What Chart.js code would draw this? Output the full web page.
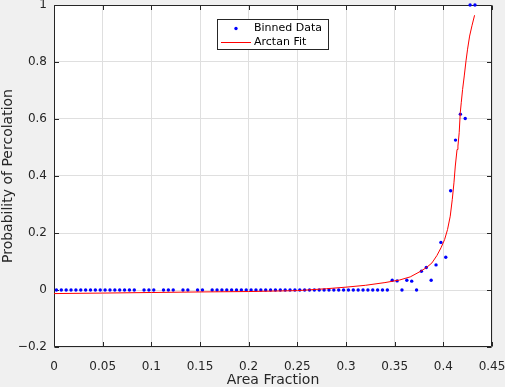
<!DOCTYPE html>
<html>
<head>
<meta charset="utf-8">
<script src="https://cdn.jsdelivr.net/npm/chart.js@4.4.0/dist/chart.umd.min.js"></script>
<style>
  html, body { margin: 0; padding: 0; background: #f0f0f0; }
  canvas { display: block; }
</style>
</head>
<body>
<canvas id="percChart" width="505" height="387"></canvas>
<script>
// --- DATA ---
// bin centres (area fraction) and the fraction of runs that percolated
const binX = [
  0.0025, 0.0075, 0.0125, 0.0175, 0.0225, 0.0275, 0.0325, 0.0375, 0.0425, 0.0475,
  0.0525, 0.0575, 0.0625, 0.0675, 0.0725, 0.0775, 0.0825,
  0.0925, 0.0975, 0.1025,
  0.1125, 0.1175, 0.1225,
  0.1325, 0.1375,
  0.1475, 0.1525,
  0.1625, 0.1675, 0.1725, 0.1775, 0.1825, 0.1875, 0.1925, 0.1975, 0.2025, 0.2075,
  0.2125, 0.2175, 0.2225, 0.2275, 0.2325, 0.2375, 0.2425, 0.2475, 0.2525, 0.2575,
  0.2625, 0.2675, 0.2725, 0.2775, 0.2825, 0.2875, 0.2925, 0.2975, 0.3025, 0.3075,
  0.3125, 0.3175, 0.3225, 0.3275, 0.3325, 0.3375, 0.3425,
  0.3475, 0.3525, 0.3575, 0.3625, 0.3675, 0.3725, 0.3775, 0.3825, 0.3875, 0.3925,
  0.3975, 0.4025, 0.4075, 0.4125, 0.4175, 0.4225, 0.4275, 0.4325
];
const binY = [
  0, 0, 0, 0, 0, 0, 0, 0, 0, 0,
  0, 0, 0, 0, 0, 0, 0,
  0, 0, 0,
  0, 0, 0,
  0, 0,
  0, 0,
  0, 0, 0, 0, 0, 0, 0, 0, 0, 0,
  0, 0, 0, 0, 0, 0, 0, 0, 0, 0,
  0, 0, 0, 0, 0, 0, 0, 0, 0, 0,
  0, 0, 0, 0, 0, 0, 0,
  0.034, 0.032, 0, 0.034, 0.031, 0, 0.066, 0.079, 0.034, 0.088,
  0.167, 0.115, 0.348, 0.526, 0.617, 0.602, 1, 1
];

// arctan fit curve
const fitX = [
  0, 0.05, 0.1, 0.15, 0.2, 0.25, 0.28, 0.3, 0.32, 0.34, 0.355, 0.366,
  0.3763, 0.3824, 0.3883, 0.3934, 0.3976, 0.4013, 0.4043, 0.4071, 0.4092, 0.4109,
  0.4123, 0.4141, 0.4150, 0.4163, 0.4174, 0.4184, 0.4198, 0.4215, 0.4233, 0.4249,
  0.4270, 0.4294, 0.4321
];
const fitY = [
  -0.0126, -0.0108, -0.0088, -0.0068, -0.0054, -0.0022, 0.0045, 0.010, 0.0165, 0.026, 0.035, 0.046,
  0.065, 0.078, 0.095, 0.121, 0.148, 0.177, 0.212, 0.259, 0.318, 0.376,
  0.435, 0.493, 0.505, 0.552, 0.622, 0.657, 0.704, 0.751, 0.804, 0.845,
  0.891, 0.927, 0.964
];

const xTicks = [0, 0.05, 0.1, 0.15, 0.2, 0.25, 0.3, 0.35, 0.4, 0.45];
const yTicks = [-0.2, 0, 0.2, 0.4, 0.6, 0.8, 1];

const AXIS_COLOR = '#262626';
const GRID_COLOR = '#dfdfdf';

Chart.defaults.font.family = '"DejaVu Sans", sans-serif';
Chart.defaults.color = AXIS_COLOR;

// tick text like MATLAB: "0", "0.05", "−0.2"
const tickText = v => {
  const s = String(Number(Math.abs(v).toFixed(2)));
  return v < 0 ? '\u2212' + s : s;
};

// --- MATLAB-ish frame: grey figure, white axes, box with inward ticks, legend ---
const matlabFrame = {
  id: 'matlabFrame',
  beforeDraw(chart) {
    const { ctx, chartArea: a } = chart;
    ctx.save();
    ctx.fillStyle = '#f0f0f0';
    ctx.fillRect(0, 0, chart.width, chart.height);
    ctx.fillStyle = '#ffffff';
    ctx.fillRect(a.left, a.top, a.right - a.left, a.bottom - a.top);
    ctx.restore();
  },
  beforeDatasetsDraw(chart) {
    const { ctx, chartArea: a, scales } = chart;
    const L = Math.round(a.left) + 0.5, R = Math.round(a.right) - 0.5;
    const T = Math.round(a.top) + 0.5, B = Math.round(a.bottom) - 0.5;
    const tl = 4.5;
    ctx.save();
    ctx.strokeStyle = AXIS_COLOR;
    ctx.lineWidth = 1;
    ctx.beginPath();
    ctx.rect(L, T, R - L, B - T);
    xTicks.forEach(v => {
      const x = Math.round(scales.x.getPixelForValue(v)) + 0.5;
      ctx.moveTo(x, B); ctx.lineTo(x, B - tl);
      ctx.moveTo(x, T); ctx.lineTo(x, T + tl);
    });
    yTicks.forEach(v => {
      const y = Math.round(scales.y.getPixelForValue(v)) + 0.5;
      ctx.moveTo(L, y); ctx.lineTo(L + tl, y);
      ctx.moveTo(R, y); ctx.lineTo(R - tl, y);
    });
    ctx.stroke();
    ctx.restore();
  },
  afterDraw(chart) {
    const { ctx } = chart;
    const sets = chart.data.datasets;
    const bx = 217.5, by = 19.5, bw = 111, bh = 30;
    ctx.save();
    ctx.fillStyle = '#ffffff';
    ctx.fillRect(bx, by, bw, bh);
    ctx.strokeStyle = AXIS_COLOR;
    ctx.lineWidth = 1;
    ctx.strokeRect(bx, by, bw, bh);
    ctx.font = '11px "DejaVu Sans", sans-serif';
    ctx.textBaseline = 'middle';
    const scat = sets.find(d => d.type === 'scatter');
    const fit = sets.find(d => d.type === 'line');
    // scatter entry
    ctx.fillStyle = scat.backgroundColor;
    ctx.beginPath();
    ctx.arc(236, 28.5, 1.7, 0, Math.PI * 2);
    ctx.fill();
    ctx.fillStyle = '#000000';
    ctx.fillText(scat.label, 254, 28.5);
    // line entry
    ctx.strokeStyle = fit.borderColor;
    ctx.beginPath();
    ctx.moveTo(221, 42.5); ctx.lineTo(251, 42.5);
    ctx.stroke();
    ctx.fillText(fit.label, 254, 42.5);
    ctx.restore();
  }
};

const ctx = document.getElementById('percChart');

new Chart(ctx, {
  data: {
    datasets: [
      {
        type: 'line',
        label: 'Arctan Fit',
        data: fitX.map((x, i) => ({ x, y: fitY[i] })),
        borderColor: '#ff0000',
        borderWidth: 1,
        pointRadius: 0,
        tension: 0,
        fill: false,
        order: 0
      },
      {
        type: 'scatter',
        label: 'Binned Data',
        data: binX.map((x, i) => ({ x, y: binY[i] })),
        backgroundColor: '#0000ff',
        borderWidth: 0,
        pointRadius: 1.7,
        clip: false,
        order: 1
      }
    ]
  },
  options: {
    responsive: false,
    animation: false,
    layout: { padding: { left: 0, right: 13, top: 5, bottom: 0 } },
    plugins: {
      legend: { display: false },
      tooltip: { enabled: false }
    },
    scales: {
      x: {
        type: 'linear',
        min: 0,
        max: 0.45,
        afterBuildTicks: s => { s.ticks = xTicks.map(v => ({ value: v })); },
        afterFit: s => { s.height = 40; s.paddingLeft = 0; s.paddingRight = 0; },
        grid: { color: GRID_COLOR, drawTicks: false },
        border: { display: false },
        ticks: {
          autoSkip: false,
          maxRotation: 0,
          padding: 13,
          font: { size: 12 },
          callback: tickText
        },
        title: {
          display: true,
          text: 'Area Fraction',
          font: { size: 14, lineHeight: 0.9 },
          padding: { top: 0, bottom: 0 }
        }
      },
      y: {
        type: 'linear',
        min: -0.2,
        max: 1,
        afterBuildTicks: s => { s.ticks = yTicks.map(v => ({ value: v })); },
        afterFit: s => { s.width = 54; s.paddingTop = 0; s.paddingBottom = 0; },
        grid: { color: GRID_COLOR, drawTicks: false },
        border: { display: false },
        ticks: {
          autoSkip: false,
          padding: 7,
          font: { size: 12 },
          callback: tickText
        },
        title: {
          display: true,
          text: 'Probability of Percolation',
          font: { size: 14 },
          padding: { top: 0, bottom: 0 }
        }
      }
    }
  },
  plugins: [matlabFrame]
});
</script>
</body>
</html>
